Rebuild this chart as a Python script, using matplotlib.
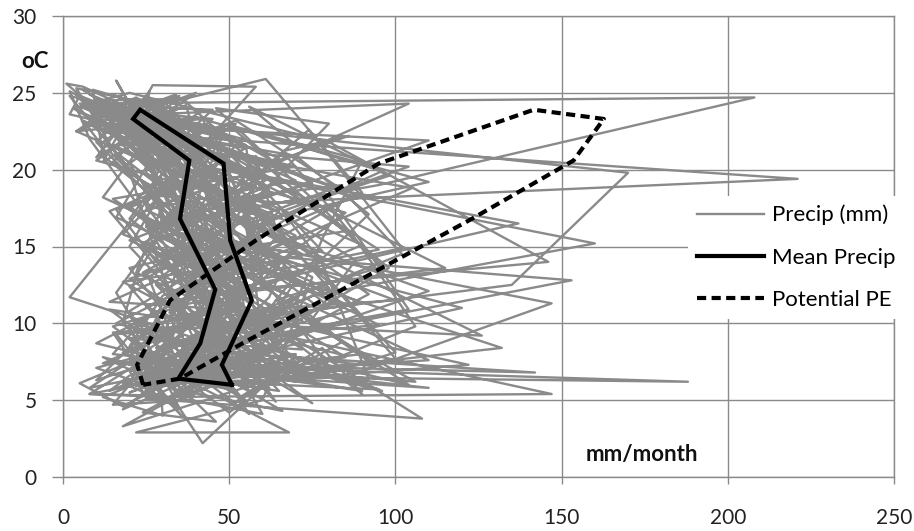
import matplotlib
matplotlib.use("Agg")
import matplotlib.pyplot as plt

plt.rcParams['font.family'] = ['Lato', 'DejaVu Sans']

# ---- monthly series (56 years, 12 months each), mm/month and degC ----
precip_mm = [
    62, 35, 88, 41, 30, 12, 8, 55, 20, 70, 33, 25,
    45, 70, 40, 95, 60, 18, 30, 25, 48, 30, 65, 50,
    30, 52, 120, 35, 25, 5, 2, 70, 15, 55, 22, 40,
    80, 28, 60, 55, 110, 40, 15, 10, 35, 90, 45, 20,
    25, 147, 45, 30, 65, 20, 45, 30, 60, 20, 55, 75,
    55, 40, 75, 160, 45, 8, 20, 50, 40, 35, 30, 60,
    40, 60, 50, 20, 35, 5, 208, 95, 25, 60, 110, 35,
    20, 45, 35, 70, 40, 30, 12, 221, 75, 45, 70, 188,
    30, 55, 65, 135, 170, 25, 10, 40, 55, 60, 132, 28,
    50, 35, 153, 60, 55, 15, 35, 110, 40, 40, 75, 45,
    142, 40, 60, 85, 30, 45, 20, 50, 137, 55, 35, 22,
    35, 25, 45, 146, 80, 20, 5, 60, 45, 126, 40, 55,
    60, 90, 147, 40, 25, 15, 30, 45, 105, 30, 20, 35,
    45, 122, 55, 50, 60, 104, 15, 25, 30, 70, 60, 40,
    110, 30, 40, 65, 35, 22, 40, 10, 65, 50, 90, 30,
    25, 108, 50, 35, 45, 30, 8, 30, 50, 40, 55, 70,
    42, 35, 20, 55, 90, 61, 25, 35, 60, 80, 30, 68,
    22, 60, 75, 45, 40, 58, 27, 20, 35, 100, 25, 15,
    40, 48, 38, 70, 30, 1, 6, 45, 25, 2, 50, 38,
    15, 30, 95, 25, 70, 35, 10, 65, 20, 45, 85, 55,
    70, 20, 30, 115, 50, 12, 50, 35, 70, 25, 45, 95,
    35, 80, 58, 30, 25, 28, 18, 85, 40, 60, 15, 50,
    55, 28, 80, 60, 45, 10, 35, 15, 30, 110, 40, 25,
    30, 65, 42, 90, 35, 20, 25, 50, 85, 35, 65, 45,
    90, 40, 55, 25, 75, 45, 5, 30, 25, 50, 20, 30,
    12, 38, 25, 48, 18, 3, 14, 28, 52, 20, 36, 8,
    28, 15, 62, 22, 55, 26, 4, 18, 33, 45, 12, 58,
    48, 58, 32, 38, 12, 9, 33, 42, 16, 28, 62, 18,
    5, 26, 44, 64, 28, 16, 2, 8, 28, 38, 30, 44,
    36, 66, 18, 52, 44, 37, 20, 56, 48, 14, 72, 26,
    18, 42, 70, 16, 32, 6, 11, 22, 12, 65, 18, 40,
    65, 22, 48, 34, 20, 42, 16, 4, 62, 32, 48, 10,
    26, 52, 28, 78, 48, 14, 24, 38, 18, 54, 24, 50,
    44, 10, 38, 26, 62, 22, 8, 48, 30, 22, 58, 32,
    8, 34, 54, 42, 16, 4, 28, 12, 44, 76, 36, 22,
    56, 46, 22, 58, 38, 30, 14, 26, 56, 38, 16, 62,
    32, 18, 82, 30, 54, 10, 36, 60, 24, 48, 44, 14,
    20, 56, 36, 46, 26, 18, 6, 34, 38, 16, 28, 46,
    50, 30, 64, 20, 40, 24, 22, 16, 50, 58, 50, 30,
    14, 62, 46, 66, 22, 2, 18, 44, 14, 30, 40, 54,
    34, 58, 40, 28, 72, 34, 12, 6, 42, 26, 52, 20,
    46, 24, 66, 50, 30, 8, 40, 24, 66, 44, 26, 36,
    16, 72, 30, 84, 46, 20, 30, 52, 34, 70, 62, 48,
    60, 36, 52, 24, 58, 28, 16, 36, 22, 18, 34, 66,
    24, 44, 26, 62, 20, 12, 24, 64, 58, 40, 20, 30,
    38, 20, 72, 44, 36, 48, 6, 20, 28, 62, 46, 8,
    52, 64, 34, 36, 66, 16, 28, 46, 72, 32, 54, 42,
    10, 30, 56, 70, 24, 26, 10, 30, 46, 54, 14, 56,
    42, 50, 20, 32, 52, 38, 22, 58, 36, 24, 68, 28,
    30, 12, 60, 54, 42, 4, 34, 14, 20, 36, 40, 18,
    85, 62, 98, 74, 58, 30, 44, 88, 66, 92, 78, 64,
    96, 72, 58, 102, 84, 52, 38, 70, 92, 76, 100, 82,
    68, 100, 82, 60, 96, 70, 56, 98, 80, 104, 66, 90,
    78, 54, 106, 88, 66, 86, 62, 74, 102, 58, 94, 70,
    104, 84, 64, 96, 78, 46, 80, 58, 68, 88, 74, 106,
    58, 92, 78, 66, 104, 60, 50, 90, 78, 70, 84, 52,
]
temp_c = [
    5.8, 8.1, 10.9, 16.2, 21.0, 24.5, 23.0, 21.4, 17.5, 11.6, 7.9, 5.5,
    7.0, 6.2, 12.4, 14.8, 19.6, 23.1, 24.2, 19.8, 16.0, 13.1, 9.5, 7.2,
    4.9, 7.8, 11.0, 15.9, 21.3, 24.8, 23.6, 20.2, 18.1, 12.5, 8.2, 6.0,
    6.5, 6.8, 12.9, 16.5, 19.2, 23.4, 22.8, 21.8, 16.4, 11.3, 9.9, 6.9,
    5.2, 5.4, 10.2, 14.1, 20.8, 24.1, 23.9, 20.9, 15.6, 12.9, 8.0, 4.8,
    7.4, 8.5, 11.8, 15.2, 20.1, 22.9, 24.4, 20.3, 17.2, 11.9, 9.1, 6.3,
    6.2, 7.0, 12.1, 16.8, 21.2, 24.3, 24.7, 19.0, 16.3, 12.6, 7.6, 6.6,
    5.5, 7.6, 11.2, 14.6, 20.9, 23.7, 22.5, 19.4, 18.0, 13.4, 7.0, 6.2,
    6.6, 8.9, 10.6, 12.5, 19.8, 23.2, 24.0, 21.2, 17.0, 13.5, 8.4, 5.9,
    6.9, 7.9, 12.8, 14.4, 21.6, 24.9, 22.7, 21.9, 16.6, 11.0, 9.6, 7.3,
    6.8, 8.2, 13.2, 17.2, 20.5, 23.3, 23.8, 20.0, 16.5, 12.4, 7.5, 6.1,
    4.5, 6.4, 12.0, 14.0, 21.8, 25.0, 24.1, 19.5, 17.8, 9.2, 10.1, 7.6,
    7.1, 6.9, 11.3, 15.8, 22.3, 24.2, 24.5, 21.1, 18.8, 11.8, 8.5, 5.3,
    6.0, 7.3, 10.5, 16.0, 20.0, 24.3, 23.5, 22.3, 16.2, 12.8, 9.4, 6.8,
    5.8, 7.7, 12.6, 15.5, 19.0, 23.6, 25.0, 20.6, 17.3, 13.9, 8.0, 6.5,
    5.1, 3.8, 11.7, 14.9, 20.7, 23.8, 23.1, 20.4, 15.9, 12.0, 8.9, 7.9,
    2.2, 4.5, 10.8, 15.3, 18.5, 25.9, 24.0, 21.0, 17.1, 12.3, 7.1, 2.9,
    2.9, 5.0, 13.0, 16.6, 21.1, 25.4, 25.5, 22.8, 16.7, 11.5, 10.4, 8.0,
    7.4, 6.6, 12.2, 15.7, 20.2, 25.6, 25.4, 21.5, 17.9, 11.7, 8.3, 5.0,
    4.7, 8.6, 9.9, 17.4, 19.3, 22.6, 23.9, 19.2, 15.4, 13.0, 7.8, 6.7,
    8.0, 6.0, 11.4, 13.6, 20.6, 24.0, 22.2, 21.7, 15.0, 11.1, 9.0, 5.7,
    6.3, 7.2, 13.5, 17.0, 21.4, 24.6, 23.4, 18.6, 16.9, 12.7, 9.8, 4.2,
    5.0, 8.4, 11.1, 14.5, 22.5, 23.5, 24.8, 20.5, 18.4, 12.1, 6.9, 6.4,
    6.7, 5.6, 10.7, 15.1, 20.3, 24.4, 23.2, 21.3, 16.0, 14.3, 8.6, 7.0,
    5.6, 7.5, 12.3, 16.3, 19.1, 22.8, 24.6, 20.8, 17.6, 10.9, 9.7, 6.0,
    7.8, 6.3, 13.4, 14.2, 22.1, 24.0, 22.9, 20.1, 15.3, 13.6, 9.2, 5.4,
    5.3, 9.4, 10.3, 17.1, 19.7, 23.0, 24.9, 21.6, 18.6, 10.5, 7.4, 7.7,
    6.4, 5.8, 11.9, 16.4, 20.9, 25.2, 23.7, 19.3, 17.4, 14.0, 9.5, 4.6,
    6.1, 8.0, 9.6, 15.6, 21.7, 23.5, 25.1, 22.0, 16.1, 12.2, 8.4, 6.8,
    7.6, 7.1, 12.7, 13.8, 18.9, 24.2, 22.4, 20.6, 14.7, 11.4, 10.6, 5.8,
    4.4, 6.7, 11.6, 16.9, 22.7, 24.6, 23.3, 21.1, 18.2, 12.9, 8.1, 6.3,
    8.3, 5.9, 10.4, 15.8, 20.4, 23.9, 24.3, 22.5, 17.0, 10.7, 9.3, 7.1,
    5.9, 7.4, 12.5, 14.7, 21.5, 22.7, 23.8, 20.3, 15.8, 12.6, 7.3, 6.0,
    6.9, 8.7, 11.8, 16.1, 19.4, 24.7, 23.4, 19.7, 17.7, 13.3, 9.7, 5.2,
    5.4, 6.5, 13.1, 15.2, 21.0, 25.3, 24.2, 21.8, 16.4, 11.2, 8.9, 6.7,
    7.2, 7.9, 10.1, 13.9, 20.6, 23.1, 22.6, 20.7, 17.5, 12.4, 10.0, 7.4,
    4.8, 6.1, 11.4, 16.7, 22.0, 24.5, 24.6, 19.9, 15.2, 13.7, 8.3, 5.6,
    6.6, 8.3, 12.2, 15.0, 20.0, 23.6, 25.2, 21.4, 18.5, 12.0, 7.7, 6.5,
    5.7, 6.6, 10.8, 17.6, 21.9, 24.3, 23.0, 22.2, 16.3, 10.6, 9.1, 7.0,
    7.5, 7.0, 12.8, 14.3, 19.5, 24.8, 23.9, 20.0, 17.3, 13.2, 8.7, 5.1,
    8.8, 9.9, 14.0, 18.3, 17.8, 21.9, 21.5, 23.2, 19.6, 14.8, 10.8, 9.0,
    3.6, 4.2, 9.0, 12.9, 23.0, 24.9, 21.0, 17.9, 14.0, 9.8, 6.2, 3.9,
    9.3, 10.2, 14.6, 19.0, 18.0, 22.3, 21.7, 23.0, 20.5, 15.4, 11.7, 8.6,
    4.1, 5.1, 8.6, 13.3, 17.3, 21.2, 25.8, 18.2, 13.1, 10.1, 5.7, 4.3,
    9.6, 11.0, 15.2, 18.7, 23.6, 20.5, 22.0, 16.2, 20.9, 14.6, 12.4, 9.9,
    5.2, 9.0, 8.3, 12.6, 18.2, 22.1, 24.2, 23.9, 19.2, 8.7, 11.2, 5.8,
    7.7, 4.9, 14.2, 18.0, 16.8, 21.5, 23.2, 17.6, 14.5, 15.8, 6.6, 8.5,
    6.3, 10.5, 9.3, 13.1, 22.6, 25.1, 20.8, 23.5, 20.0, 9.6, 10.9, 4.1,
    8.6, 8.1, 15.0, 19.4, 18.4, 20.9, 22.0, 18.9, 14.1, 14.9, 7.3, 9.2,
    4.0, 5.2, 9.4, 17.8, 23.3, 22.5, 24.9, 21.2, 19.9, 9.1, 5.9, 3.3,
    7.9, 9.1, 13.6, 17.9, 20.8, 22.4, 21.8, 18.4, 15.7, 11.9, 10.3, 8.2,
    5.6, 6.9, 10.7, 14.5, 18.7, 23.2, 22.1, 20.9, 17.1, 13.8, 8.1, 6.9,
    6.5, 7.7, 12.3, 16.4, 19.9, 21.6, 24.1, 19.6, 18.3, 10.9, 9.4, 5.4,
    8.4, 5.3, 9.8, 15.5, 21.2, 22.2, 20.4, 22.6, 14.9, 12.8, 7.2, 7.8,
    6.0, 8.8, 11.5, 13.7, 17.5, 24.0, 23.0, 18.1, 16.8, 14.1, 10.0, 6.2,
    7.0, 6.4, 13.9, 17.3, 20.2, 21.0, 22.9, 20.6, 15.5, 11.3, 8.8, 4.9,
]

# ---- monthly climatology (closed loop: month 1..12, back to 1) ----
mean_temp = [6.0, 7.3, 11.5, 15.4, 20.4, 23.9, 23.3, 20.6, 16.8, 12.2, 8.7, 6.4]
mean_precip = [50.8, 47.8, 56.8, 50.3, 48.3, 23.2, 21.1, 38.0, 35.2, 45.8, 41.3, 34.7]
potential_pe = [24.1, 22.3, 32.2, 58.0, 95.0, 141.6, 162.7, 153.6, 123.0, 84.0, 54.0, 35.2]

x_ticks = [0, 50, 100, 150, 200, 250]
y_ticks = [0, 5, 10, 15, 20, 25, 30]

W, H = 914, 531
fig = plt.figure(figsize=(W / 100, H / 100), dpi=100)
ax = fig.add_axes([63 / W, 1 - 477 / H, (894 - 63) / W, (477 - 16) / H])

grid_col = '#8a8a8a'
ax.set_xlim(0, 250)
ax.set_ylim(0, 30)
ax.set_xticks(x_ticks)
ax.set_yticks(y_ticks)
ax.grid(True, color=grid_col, linewidth=1.0)
ax.set_axisbelow(True)
for s in ax.spines.values():
    s.set_color(grid_col)
    s.set_linewidth(1.0)
ax.tick_params(axis='x', colors=grid_col, length=5, width=1.0, pad=17,
               labelcolor='#222222', labelsize=15)
ax.tick_params(axis='y', colors=grid_col, length=8, width=1.0, pad=11,
               labelcolor='#222222', labelsize=15)

ax.plot(precip_mm, temp_c, color='#8a8a8a', linewidth=1.7, label='Precip (mm)', zorder=2)
ax.plot(mean_precip + mean_precip[:1], mean_temp + mean_temp[:1], color='black',
        linewidth=3.0, label='Mean Precip', zorder=3, solid_joinstyle='miter')
ax.plot(potential_pe + potential_pe[:1], mean_temp + mean_temp[:1], color='black',
        linewidth=3.0, dashes=(2.2, 1.3), label='Potential PE', zorder=3)

leg = ax.legend(loc='upper left', bbox_to_anchor=(688 / W, 1 - 196 / H),
                bbox_transform=fig.transFigure, frameon=True, fontsize=16,
                handlelength=3.0, handletextpad=0.4, labelspacing=1.0,
                borderpad=0.4, borderaxespad=0, fancybox=False)
leg.get_frame().set_facecolor('white')
leg.get_frame().set_edgecolor('none')
leg.get_frame().set_alpha(1.0)
leg.set_zorder(10)

fig.text(35 / W, 1 - 62 / H, 'oC', fontsize=16, fontweight='bold', ha='center',
         va='center', color='#111111')
ax.text(174, 1.45, 'mm/month', fontsize=16, fontweight='bold', ha='center',
        va='center', color='#111111')

fig.savefig('out.png', dpi=100)
